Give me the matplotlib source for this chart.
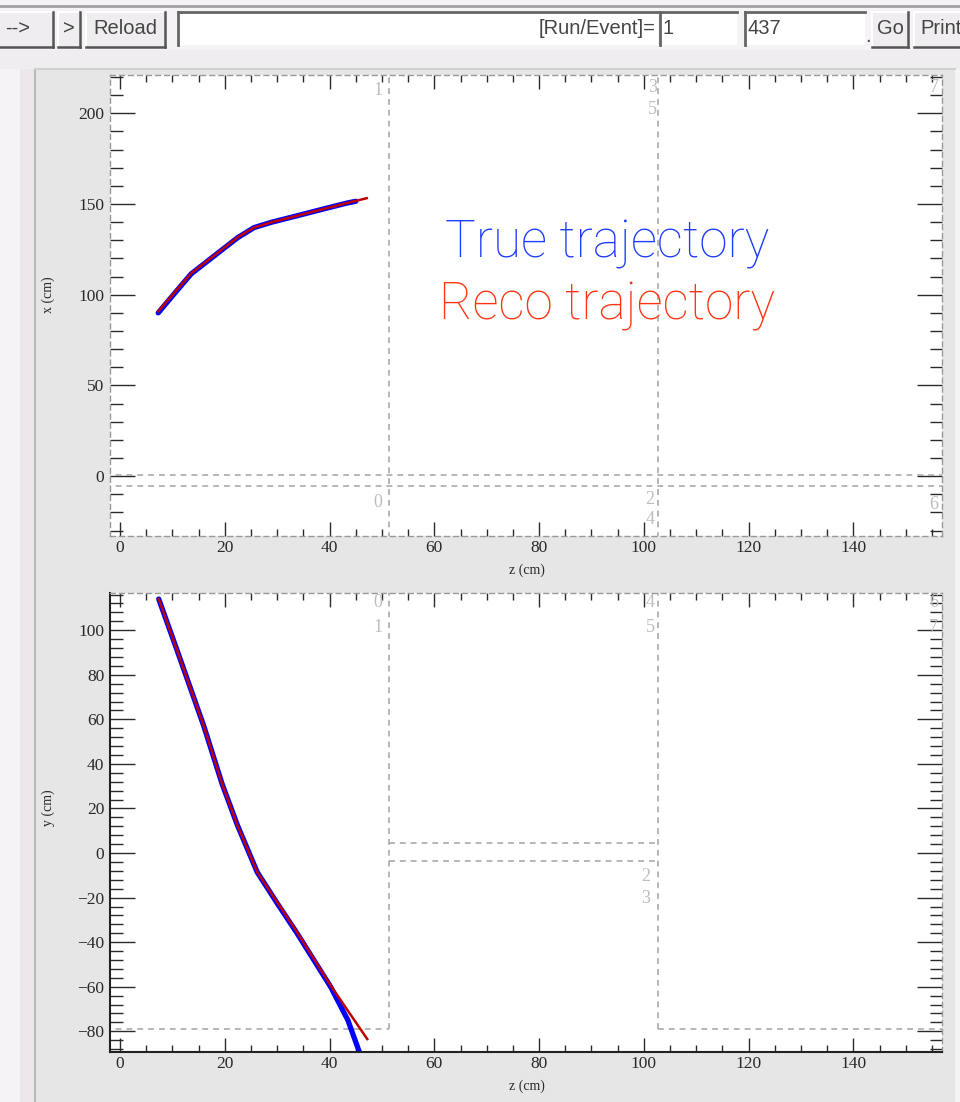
import matplotlib
matplotlib.use("Agg")
import matplotlib.pyplot as plt
from matplotlib.patches import Rectangle
from matplotlib.ticker import MultipleLocator

# trajectory points, x-z view
xz_true_z = [7.3, 10.5, 13.6, 18.7, 22.5, 25.6, 29.0, 33.8, 38.5, 43.3, 45.0]
xz_true_x = [90.0, 101.0, 111.5, 123.0, 131.5, 137.0, 140.0, 143.5, 147.0, 150.5, 151.5]
xz_reco_z = [7.3, 10.5, 13.6, 18.7, 22.5, 25.6, 29.0, 33.8, 38.5, 43.3, 47.1]
xz_reco_x = [90.8, 101.5, 111.8, 123.2, 131.7, 137.0, 140.0, 143.5, 147.0, 150.5, 153.2]

# trajectory points, y-z view
yz_true_z = [7.4, 10.9, 16.0, 19.5, 22.4, 26.2, 30.0, 33.8, 40.2, 43.5, 45.8]
yz_true_y = [114.0, 91.0, 57.0, 31.0, 12.6, -8.6, -22.5, -36.0, -60.0, -75.0, -90.0]
yz_reco_z = [7.4, 10.9, 16.0, 19.5, 22.4, 26.2, 30.0, 33.8, 40.2, 47.2]
yz_reco_y = [114.0, 91.0, 57.0, 31.0, 12.6, -8.6, -22.0, -35.5, -59.4, -83.5]

# module boundaries
z_edges = [51.4, 102.7]
xz_gap = [0.5, -5.5]
yz_mid_gap = [4.5, -3.5]
yz_low = -79.0

W, H = 960, 1102
fig = plt.figure(figsize=(W / 100, H / 100), dpi=100)
fig.patch.set_facecolor("#f5f3f5")

# background / toolbar layer in pixel coordinates
bg = fig.add_axes([0, 0, 1, 1], zorder=-1)
bg.set_xlim(0, W)
bg.set_ylim(H, 0)
bg.axis("off")

bg.add_patch(Rectangle((0, 50), W, 19, color="#efedef", lw=0))
bg.add_patch(Rectangle((20, 69), 15, H - 69, color="#ebe7eb", lw=0))
bg.add_patch(Rectangle((35, 69), 920, H - 69, color="#e6e6e6", lw=0))
bg.plot([35, 35], [69, H], color="#b8b8b8", lw=1.5)
bg.plot([35, 955], [69, 69], color="#d0d0d0", lw=1.5)
bg.plot([0, W], [6, 6], color="#a0a0a0", lw=2)

tb_font = dict(family="Liberation Sans", fontsize=14.5, color="#454545", va="center")


def button(x0, x1, label, tx=None, ha="center"):
    y0, y1 = 12, 47
    bg.add_patch(Rectangle((x0, y0), x1 - x0, y1 - y0, color="#efedef", lw=0))
    bg.plot([x0, x1], [y0, y0], color="white", lw=1.5)
    bg.plot([x0, x0], [y0, y1], color="white", lw=1.5)
    bg.plot([x0, x1], [y1, y1], color="#555555", lw=1.8)
    bg.plot([x1, x1], [y0, y1], color="#555555", lw=1.8)
    if tx is None:
        tx = (x0 + x1) / 2
    bg.text(tx, 29, label, ha=ha, **tb_font)


def field(x0, x1, label=None, tx=None, ha="left"):
    y0, y1 = 12, 45
    bg.add_patch(Rectangle((x0, y0), x1 - x0, y1 - y0, color="white", lw=0))
    bg.plot([x0, x1], [y0, y0], color="#666666", lw=2)
    bg.plot([x0, x0], [y0, y1], color="#666666", lw=2)
    if label is not None:
        bg.text(tx, 28, label, ha=ha, **tb_font)


button(-5, 53, "-->", tx=18)
button(58, 80, ">")
button(86, 165, "Reload")
field(178, 658, "[Run/Event]=", tx=656, ha="right")
field(660, 737, "1", tx=663)
field(745, 865, "437", tx=748)
bg.text(868, 36, ".", ha="center", **tb_font)
button(872, 908, "Go")
button(914, 975, "Print", tx=920, ha="left")

# plot panels
left, width = 110 / W, 832 / W
ax1 = fig.add_axes([left, 1 - 536 / H, width, 461 / H])
ax2 = fig.add_axes([left, 1 - 1052 / H, width, 459 / H])

dash = dict(color="#aaaaaa", lw=1.2, ls=(0, (3.5, 3)))
grey_lbl = dict(family="Liberation Serif", fontsize=13, color="#bdbdbd",
                ha="center", va="center")

xlim = (-1.9, 156.9)

# x-z view
ax1.set_xlim(*xlim)
ax1.set_ylim(-33.0, 221.1)
for zc in z_edges:
    ax1.plot([zc, zc], [-40, 230], **dash)
for yc in xz_gap:
    ax1.plot([-5, 160], [yc, yc], **dash)
ax1.plot(xz_true_z, xz_true_x, color="#0000ff", lw=3.8, solid_capstyle="round",
         solid_joinstyle="round")
ax1.plot(xz_reco_z, xz_reco_x, color="#c00000", lw=1.8, solid_joinstyle="round")
ax1.text(49.3, 212.8, "1", **grey_lbl)
ax1.text(101.6, 214, "3", **grey_lbl)
ax1.text(101.6, 202, "5", **grey_lbl)
ax1.text(155.5, 214, "7", **grey_lbl)
ax1.text(49.3, -14.3, "0", **grey_lbl)
ax1.text(101.2, -13, "2", **grey_lbl)
ax1.text(101.2, -24, "4", **grey_lbl)
ax1.text(155.3, -15.8, "6", **grey_lbl)
ax1.xaxis.set_major_locator(MultipleLocator(20))
ax1.xaxis.set_minor_locator(MultipleLocator(5))
ax1.yaxis.set_major_locator(MultipleLocator(50))
ax1.yaxis.set_minor_locator(MultipleLocator(10))

# y-z view
ax2.set_xlim(*xlim)
ax2.set_ylim(-89.3, 116.7)
for zc in z_edges:
    ax2.plot([zc, zc], [yz_low, 130], **dash)
for yc in yz_mid_gap:
    ax2.plot(z_edges, [yc, yc], **dash)
ax2.plot([-5, z_edges[0]], [yz_low, yz_low], **dash)
ax2.plot([z_edges[1], 160], [yz_low, yz_low], **dash)
ax2.plot(yz_true_z, yz_true_y, color="#0000ff", lw=3.8, solid_capstyle="round",
         solid_joinstyle="round")
ax2.plot(yz_reco_z, yz_reco_y, color="#c00000", lw=1.8, solid_joinstyle="round")
ax2.text(49.3, 112.4, "0", **grey_lbl)
ax2.text(49.3, 101.2, "1", **grey_lbl)
ax2.text(101.2, 112.4, "4", **grey_lbl)
ax2.text(101.2, 101.2, "5", **grey_lbl)
ax2.text(155.3, 112.4, "6", **grey_lbl)
ax2.text(155.3, 101.2, "7", **grey_lbl)
ax2.text(100.4, -10.7, "2", **grey_lbl)
ax2.text(100.4, -20.5, "3", **grey_lbl)
ax2.xaxis.set_major_locator(MultipleLocator(20))
ax2.xaxis.set_minor_locator(MultipleLocator(5))
ax2.yaxis.set_major_locator(MultipleLocator(20))
ax2.yaxis.set_minor_locator(MultipleLocator(4))

for ax in (ax1, ax2):
    ax.set_facecolor("white")
    ax.tick_params(which="both", direction="in", top=True, right=True,
                   colors="#2a2a2a", width=1.0, labelsize=12.5)
    ax.tick_params(axis="x", which="major", length=10, pad=3)
    ax.tick_params(axis="x", which="minor", length=5)
    ax.tick_params(axis="y", which="major", length=18, pad=4)
    ax.tick_params(axis="y", which="minor", length=9)
    for lab in ax.get_xticklabels() + ax.get_yticklabels():
        lab.set_family("Liberation Serif")
    for s in ax.spines.values():
        s.set_color("#999999")
        s.set_linewidth(1.0)
        s.set_linestyle((0, (3.5, 3)))

for s in ("left", "bottom"):
    ax2.spines[s].set_color("#222222")
    ax2.spines[s].set_linestyle("-")
    ax2.spines[s].set_linewidth(1.5)

# axis titles
lbl = dict(family="Liberation Serif", fontsize=10, color="#2a2a2a",
           ha="center", va="center")
fig.text(527 / W, 1 - 570 / H, "z (cm)", **lbl)
fig.text(527 / W, 1 - 1086 / H, "z (cm)", **lbl)
fig.text(48 / W, 1 - 295 / H, "x (cm)", rotation=90, **lbl)
fig.text(48 / W, 1 - 808 / H, "y (cm)", rotation=90, **lbl)

# legend text
leg = dict(family="Roboto", fontweight="light", fontsize=37,
           ha="center", va="center")
fig.text(607 / W, 1 - 244 / H, "True trajectory", color="#1e3cff", **leg)
fig.text(607 / W, 1 - 306 / H, "Reco trajectory", color="#ff3412", **leg)

fig.savefig("out.png", dpi=100, facecolor=fig.get_facecolor())
